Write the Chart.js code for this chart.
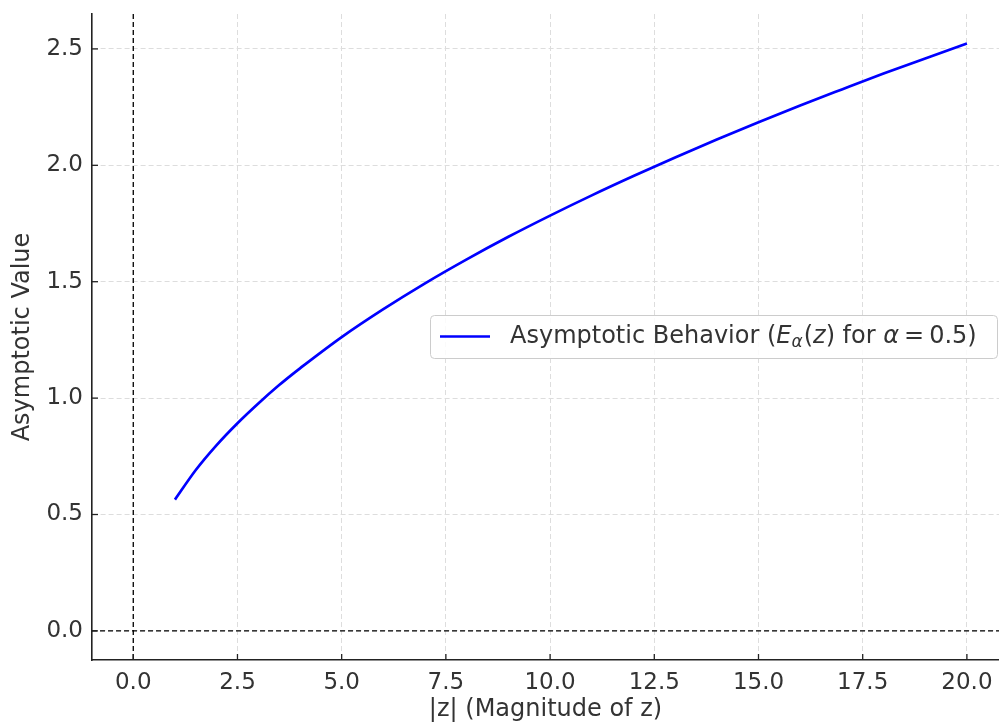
<!DOCTYPE html>
<html>
<head>
<meta charset="utf-8">
<script src="https://cdn.jsdelivr.net/npm/chart.js"></script>
<style>
  html, body { margin: 0; padding: 0; background: #fff; }
  #wrap { width: 999px; height: 724px; }
</style>
</head>
<body>
<div id="wrap"><canvas id="chart" width="999" height="724"></canvas></div>
<script>
// |z| values and the asymptotic curve
const zValues = [1, 1.5, 2, 2.5, 3, 3.5, 3.8, 4, 5, 6, 7, 8, 9, 10, 11, 12, 13, 14, 15, 16, 17, 18, 19, 20];
const asymptoticValues = [0.564, 0.691, 0.798, 0.892, 0.977, 1.056, 1.100, 1.128, 1.262, 1.382, 1.493, 1.596, 1.693, 1.784, 1.871, 1.954, 2.034, 2.111, 2.185, 2.257, 2.326, 2.394, 2.459, 2.523];
const xTickStep = 2.5;
const yTickStep = 0.5;

const FONT = "'DejaVu Sans', sans-serif";
const TEXT = '#333333';

// dashed reference lines at x=0 and y=0, inward ticks, legend box
const overlay = {
  id: 'overlay',
  beforeDatasetsDraw(chart) {
    const { ctx, chartArea: a, scales: { x, y } } = chart;
    ctx.save();
    ctx.strokeStyle = '#000';
    ctx.lineWidth = 1.3;
    ctx.setLineDash([5, 3]);
    const x0 = x.getPixelForValue(0);
    ctx.beginPath(); ctx.moveTo(x0, a.top); ctx.lineTo(x0, a.bottom); ctx.stroke();
    const y0 = y.getPixelForValue(0);
    ctx.beginPath(); ctx.moveTo(a.left, y0); ctx.lineTo(a.right, y0); ctx.stroke();
    ctx.restore();
  },
  afterDraw(chart) {
    const { ctx, chartArea: a, scales: { x, y } } = chart;
    ctx.save();
    // inward tick marks
    ctx.strokeStyle = '#222';
    ctx.lineWidth = 1.3;
    x.ticks.forEach(t => {
      const px = x.getPixelForValue(t.value);
      ctx.beginPath(); ctx.moveTo(px, a.bottom); ctx.lineTo(px, a.bottom - 6); ctx.stroke();
    });
    y.ticks.forEach(t => {
      const py = y.getPixelForValue(t.value);
      ctx.beginPath(); ctx.moveTo(a.left, py); ctx.lineTo(a.left + 6, py); ctx.stroke();
    });

    // legend
    const bx = 430, by = 315, bw = 567, bh = 43;
    ctx.fillStyle = 'rgba(255,255,255,0.85)';
    ctx.strokeStyle = '#cccccc';
    ctx.lineWidth = 1;
    ctx.beginPath();
    ctx.roundRect(bx + 0.5, by + 0.5, bw, bh, 4);
    ctx.fill(); ctx.stroke();
    const cy = by + bh / 2;
    ctx.strokeStyle = '#0000ff';
    ctx.lineWidth = 2.5;
    ctx.beginPath(); ctx.moveTo(440, cy); ctx.lineTo(490, cy); ctx.stroke();

    ctx.fillStyle = TEXT;
    ctx.textBaseline = 'middle';
    ctx.textAlign = 'left';
    // [text, style, size, vertical shift, extra space after]
    const parts = [
      ['Asymptotic Behavior (', 'normal', 24, 0, 0],
      ['E', 'italic', 24, 0, 0],
      ['α', 'italic', 17, 6, 1],
      ['(', 'normal', 24, 0, 0],
      ['z', 'italic', 24, 0, 0],
      [') for ', 'normal', 24, 0, 0],
      ['α', 'italic', 24, 0, 5],
      ['=', 'normal', 24, 0, 5],
      ['0.5)', 'normal', 24, 0, 0]
    ];
    let tx = 510;
    parts.forEach(([s, style, size, dy, gap]) => {
      ctx.font = `${style} ${size}px ${FONT}`;
      ctx.fillText(s, tx, cy + dy);
      tx += ctx.measureText(s).width + gap;
    });
    ctx.restore();
  }
};

new Chart(document.getElementById('chart'), {
  type: 'line',
  data: {
    datasets: [{
      label: 'Asymptotic Behavior',
      data: zValues.map((z, i) => ({ x: z, y: asymptoticValues[i] })),
      borderColor: '#0000ff',
      borderWidth: 2.7,
      pointRadius: 0,
      cubicInterpolationMode: 'monotone',
      fill: false
    }]
  },
  options: {
    responsive: false,
    animation: false,
    layout: { padding: { top: 14, right: 0, left: 0, bottom: 0 } },
    plugins: { legend: { display: false }, tooltip: { enabled: false } },
    scales: {
      x: {
        type: 'linear',
        min: -0.99,
        max: 20.77,
        afterFit(scale) {
          scale.height = 64;
          scale.paddingLeft = 0;
          scale.paddingRight = 0;
        },
        ticks: {
          stepSize: xTickStep,
          includeBounds: false,
          color: TEXT,
          font: { family: FONT, size: 23 },
          padding: 9,
          callback: v => v.toFixed(1)
        },
        grid: { color: '#dddddd', lineWidth: 1, drawTicks: false },
        border: { display: true, color: '#222', width: 1.6, dash: [5, 3] },
        title: {
          display: true,
          text: '|z| (Magnitude of z)',
          color: TEXT,
          font: { family: FONT, size: 24 },
          padding: { top: 0, bottom: 0 }
        }
      },
      y: {
        type: 'linear',
        min: -0.125,
        max: 2.65,
        afterFit(scale) {
          scale.width = 92;
          scale.paddingTop = 0;
          scale.paddingBottom = 0;
        },
        ticks: {
          stepSize: yTickStep,
          includeBounds: false,
          color: TEXT,
          font: { family: FONT, size: 23 },
          padding: 9,
          callback: v => v.toFixed(1)
        },
        grid: { color: '#dddddd', lineWidth: 1, drawTicks: false },
        border: { display: true, color: '#222', width: 1.6, dash: [5, 3] },
        title: {
          display: true,
          text: 'Asymptotic Value',
          color: TEXT,
          font: { family: FONT, size: 24 },
          padding: { top: 8, bottom: 0 }
        }
      }
    }
  },
  plugins: [overlay]
});
</script>
</body>
</html>
